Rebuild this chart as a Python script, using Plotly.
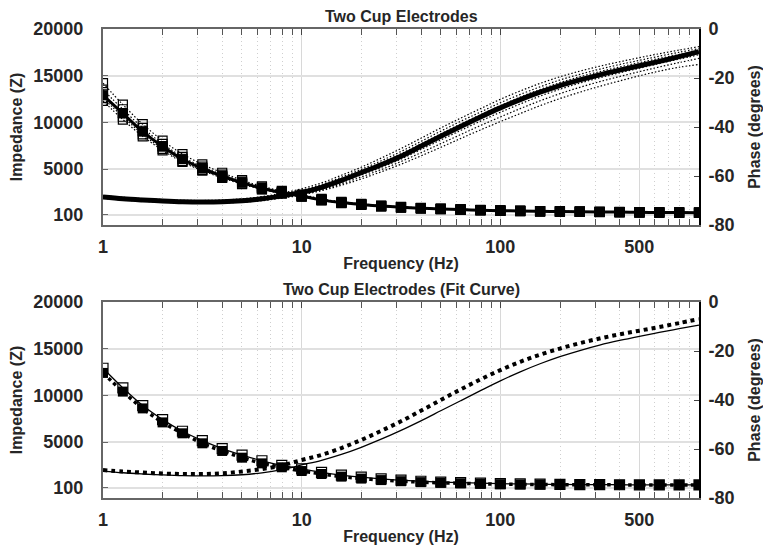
import plotly.graph_objects as go

# ---------------- data ----------------
freqs = [1, 1.259, 1.585, 1.995, 2.512, 3.162, 3.981, 5.012, 6.31, 7.943,
         10, 12.59, 15.85, 19.95, 25.12, 31.62, 39.81, 50.12, 63.1, 79.43,
         100, 125.9, 158.5, 199.5, 251.2, 316.2, 398.1, 501.2, 631, 794.3, 1000]

# Top panel: mean impedance and phase
imp_mean = [12900, 10950, 9000, 7400, 6050, 5070, 4250, 3540, 2930, 2460,
            2100, 1690, 1400, 1200, 1030, 900, 800, 720, 650, 590,
            540, 500, 470, 440, 420, 400, 380, 360, 345, 330, 320]
phase_mean = [-68.6, -69.3, -69.8, -70.2, -70.5, -70.6, -70.5, -70.1, -69.3, -68.1,
              -66.7, -64.6, -61.8, -58.6, -55.4, -51.9, -47.9, -43.8, -39.8, -35.9,
              -32.2, -28.8, -25.8, -23.1, -20.8, -18.7, -16.8, -15.0, -13.2, -11.3, -9.3]

# Top panel: individual trials
imp_trial_1 = [14200, 11900, 9800, 8050, 6600, 5500, 4600, 3800, 3150, 2650, 2250, 1800, 1490, 1270, 1090, 950,
               840, 760, 690, 625, 570, 530, 495, 465, 440, 420, 400, 380, 365, 350, 335]
imp_trial_2 = [13500, 11400, 9400, 7700, 6300, 5250, 4400, 3650, 3030, 2540, 2160, 1740, 1440, 1230, 1060, 920,
               815, 735, 665, 605, 555, 512, 480, 450, 428, 408, 388, 368, 352, 337, 326]
imp_trial_3 = [12600, 10600, 8700, 7150, 5850, 4900, 4120, 3440, 2850, 2400, 2050, 1650, 1370, 1170, 1005, 880,
               785, 705, 637, 578, 530, 490, 460, 432, 412, 392, 372, 354, 339, 325, 314]
imp_trial_4 = [12300, 10300, 8500, 7000, 5750, 4820, 4050, 3380, 2810, 2370, 2030, 1630, 1350, 1155, 995, 870,
               775, 697, 630, 572, 524, 485, 455, 428, 408, 388, 368, 350, 335, 321, 310]
imp_trial_5 = [13000, 11000, 9100, 7450, 6100, 5100, 4270, 3560, 2950, 2480, 2110, 1700, 1410, 1205, 1035, 905,
               805, 722, 655, 595, 545, 505, 473, 444, 423, 403, 383, 363, 348, 333, 322]

phase_trial_1 = [-68.0, -68.7, -69.2, -69.6, -69.9, -70.0, -69.8, -69.3, -68.4, -67.0, -65.2, -62.8, -59.7, -56.4, -52.7, -48.8,
                 -44.6, -40.4, -36.4, -32.5, -28.7, -25.3, -22.2, -19.5, -17.2, -15.2, -13.4, -11.7, -10.1, -8.6, -7.2]
phase_trial_2 = [-68.2, -68.9, -69.4, -69.8, -70.1, -70.2, -70.0, -69.6, -68.7, -67.4, -65.8, -63.5, -60.5, -57.3, -53.8, -50.0,
                 -45.9, -41.7, -37.7, -33.9, -30.1, -26.7, -23.6, -20.8, -18.5, -16.4, -14.5, -12.8, -11.1, -9.5, -8.0]
phase_trial_3 = [-68.4, -69.1, -69.6, -70.0, -70.3, -70.4, -70.3, -69.9, -69.0, -67.8, -66.3, -64.1, -61.2, -58.0, -54.6, -50.9,
                 -46.9, -42.8, -38.8, -35.0, -31.3, -27.8, -24.7, -21.9, -19.5, -17.4, -15.5, -13.7, -12.0, -10.4, -8.8]
phase_trial_4 = [-68.8, -69.5, -70.0, -70.4, -70.7, -70.8, -70.7, -70.3, -69.6, -68.4, -67.1, -65.2, -62.6, -59.6, -56.5, -53.1,
                 -49.2, -45.3, -41.4, -37.6, -34.0, -30.6, -27.4, -24.6, -22.1, -19.9, -17.9, -16.0, -14.1, -12.3, -10.5]
phase_trial_5 = [-69.0, -69.7, -70.2, -70.6, -70.9, -71.0, -70.9, -70.6, -69.9, -68.8, -67.4, -65.6, -63.2, -60.4, -57.4, -54.1,
                 -50.5, -46.8, -43.1, -39.4, -35.9, -32.5, -29.3, -26.4, -23.8, -21.5, -19.4, -17.4, -15.5, -13.7, -12.0]
phase_trial_6 = [-69.1, -69.8, -70.3, -70.7, -71.0, -71.1, -71.0, -70.7, -70.1, -69.0, -67.7, -66.0, -63.8, -61.2, -58.3, -55.2,
                 -51.8, -48.3, -44.7, -41.2, -37.8, -34.5, -31.3, -28.4, -25.8, -23.4, -21.2, -19.1, -17.2, -15.6, -14.5]

# Bottom panel: measured vs fit
imp_measured = [12400, 10400, 8600, 7100, 5930, 4860, 4040, 3320, 2710, 2290,
                1890, 1570, 1290, 1080, 920, 800, 700, 630, 575, 525,
                480, 455, 440, 430, 420, 413, 407, 402, 398, 395, 393]
imp_fit = [12900, 10800, 8900, 7400, 6150, 5150, 4300, 3600, 2990, 2500,
           2130, 1750, 1450, 1230, 1050, 905, 795, 710, 640, 585,
           540, 505, 478, 458, 442, 430, 420, 412, 405, 400, 396]
phase_measured = [-68.6, -69.2, -69.6, -70.0, -70.2, -70.2, -69.9, -69.2, -68.2, -66.7,
                  -64.5, -62.4, -59.6, -56.3, -52.6, -48.7, -44.4, -40.0, -35.7, -31.6,
                  -27.8, -24.4, -21.5, -19.0, -16.8, -14.9, -13.2, -11.7, -10.2, -8.6, -7.0]
phase_fit = [-69.0, -69.7, -70.2, -70.6, -70.9, -71.0, -70.9, -70.5, -69.7, -68.4,
             -66.5, -64.6, -62.2, -59.3, -56.0, -52.4, -48.5, -44.4, -40.3, -36.2,
             -32.2, -28.5, -25.2, -22.3, -19.8, -17.6, -15.7, -14.0, -12.4, -10.9, -9.4]

x_tickvals = [1, 10, 100, 500]
x_ticktext = ["1", "10", "100", "500"]
x_minor = [2, 3, 4, 5, 6, 7, 8, 9, 20, 30, 40, 50, 60, 70, 80, 90,
           200, 300, 400, 500, 600, 700, 800, 900]
imp_ticks = [100, 5000, 10000, 15000, 20000]
imp_ticktext = ["100", "5000", "10000", "15000", "20000"]
phase_ticks = [-80, -60, -40, -20, 0]
phase_ticktext = ["-80", "-60", "-40", "-20", "0"]

titles = ["Two Cup Electrodes", "Two Cup Electrodes (Fit Curve)"]

# ---------------- figure ----------------
FONT = "Liberation Sans, Arial, sans-serif"
TXT = "#262626"
fig = go.Figure()

imp_trials = [imp_trial_1, imp_trial_2, imp_trial_3, imp_trial_4, imp_trial_5]
phase_trials = [phase_trial_1, phase_trial_2, phase_trial_3, phase_trial_4,
                phase_trial_5, phase_trial_6]

FINE_DOT = "1.5px,2px"

for tr in phase_trials:
    fig.add_trace(go.Scatter(x=freqs, y=tr, xaxis="x", yaxis="y2", mode="lines",
                             line=dict(color="black", width=1.2, dash=FINE_DOT, shape="spline")))
for tr in imp_trials:
    fig.add_trace(go.Scatter(x=freqs, y=tr, xaxis="x", yaxis="y", mode="lines+markers",
                             line=dict(color="black", width=1.2, dash=FINE_DOT, shape="spline"),
                             marker=dict(symbol="square-open", size=9, color="black",
                                         line=dict(width=1.2))))
fig.add_trace(go.Scatter(x=freqs, y=phase_mean, xaxis="x", yaxis="y2", mode="lines",
                         line=dict(color="black", width=5, shape="spline")))
fig.add_trace(go.Scatter(x=freqs, y=imp_mean, xaxis="x", yaxis="y", mode="lines+markers",
                         line=dict(color="black", width=3, shape="spline"),
                         marker=dict(symbol="square", size=10, color="black")))

# bottom panel
fig.add_trace(go.Scatter(x=freqs, y=phase_fit, xaxis="x2", yaxis="y4", mode="lines",
                         line=dict(color="black", width=1.3, shape="spline")))
fig.add_trace(go.Scatter(x=freqs, y=phase_measured, xaxis="x2", yaxis="y4", mode="lines",
                         line=dict(color="black", width=4, dash="dot", shape="spline")))
fig.add_trace(go.Scatter(x=freqs, y=imp_fit, xaxis="x2", yaxis="y3", mode="lines+markers",
                         line=dict(color="black", width=1.3, shape="spline"),
                         marker=dict(symbol="square-open", size=10, color="black",
                                     line=dict(width=1.2))))
fig.add_trace(go.Scatter(x=freqs, y=imp_measured, xaxis="x2", yaxis="y3", mode="lines+markers",
                         line=dict(color="black", width=3.5, dash="dot", shape="spline"),
                         marker=dict(symbol="square", size=10, color="black")))

tickfont = dict(family=FONT, size=18, color=TXT, weight="bold")
titlefont = dict(family=FONT, size=16, color=TXT, weight="bold")


def xaxis_cfg(anchor):
    return dict(type="log", range=[0, 3], anchor=anchor, automargin=False,
                tickvals=x_tickvals, ticktext=x_ticktext, tickfont=tickfont,
                ticks="inside", ticklen=6, tickcolor="#444", mirror="allticks",
                showline=True, linecolor="#666", linewidth=2,
                showgrid=True, gridcolor="#d8d8d8", gridwidth=1,
                ticklabelstandoff=4,
                minor=dict(tickvals=x_minor, ticks="inside", ticklen=4, tickcolor="#555",
                           showgrid=True, gridcolor="#cfcfcf", griddash="1px,3px", gridwidth=1),
                title=dict(text="Frequency (Hz)", font=titlefont, standoff=2),
                zeroline=False)


def yleft_cfg(domain, anchor):
    return dict(domain=domain, anchor=anchor, range=[-1000, 20000], automargin=False,
                tickvals=imp_ticks, ticktext=imp_ticktext,
                tickfont=tickfont, ticks="inside", ticklen=5, tickcolor="#666",
                showline=True, linecolor="#666", linewidth=2,
                showgrid=True, gridcolor="#e0e0e0", gridwidth=1.5,
                ticklabelstandoff=14, zeroline=False,
                title=dict(text="Impedance (Z)", font=titlefont, standoff=7))


def yright_cfg(overlay, anchor):
    return dict(overlaying=overlay, anchor=anchor, side="right", range=[-80, 0],
                automargin=False,
                tickvals=phase_ticks, ticktext=phase_ticktext,
                tickfont=tickfont, ticks="inside", ticklen=5,
                tickcolor="#444", showline=True, linecolor="black", linewidth=2,
                showgrid=False, zeroline=False, ticklabelstandoff=4,
                title=dict(text="Phase (degrees)", font=titlefont, standoff=17))


top_dom = [(469 - 196) / 469, 1]
bot_dom = [0, 196 / 469]

fig.update_layout(
    width=763, height=552,
    margin=dict(l=103, r=64, t=29, b=54),
    paper_bgcolor="white", plot_bgcolor="white",
    showlegend=False,
    xaxis=xaxis_cfg("y"),
    xaxis2=xaxis_cfg("y3"),
    yaxis=yleft_cfg(top_dom, "x"),
    yaxis2=yright_cfg("y", "x"),
    yaxis3=yleft_cfg(bot_dom, "x2"),
    yaxis4=yright_cfg("y3", "x2"),
    annotations=[
        dict(text=titles[0], xref="paper", yref="paper", x=0.5, y=(498 - 16) / 469,
             xanchor="center", yanchor="middle", showarrow=False, font=titlefont),
        dict(text=titles[1], xref="paper", yref="paper", x=0.5, y=(498 - 290) / 469,
             xanchor="center", yanchor="middle", showarrow=False, font=titlefont),
    ],
)

fig.write_html("out.html")
